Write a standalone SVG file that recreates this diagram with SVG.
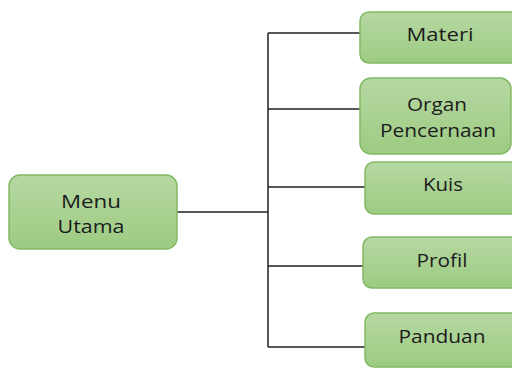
<svg xmlns="http://www.w3.org/2000/svg" width="512" height="368" viewBox="0 0 512 368">
<defs>
<linearGradient id="g" x1="0" y1="0" x2="0" y2="1">
<stop offset="0" stop-color="#b6d8a3"/>
<stop offset="1" stop-color="#9dcb82"/>
</linearGradient>
<style>
.box{fill:url(#g);stroke:#82b964;stroke-width:1.5}
.t{font-family:"Open Sans","DejaVu Sans",sans-serif;font-size:18px;fill:#1c1c1c;text-anchor:middle}
.c{fill:none;stroke:#222;stroke-width:1.5}
</style>
</defs>
<rect width="512" height="368" fill="#fff"/>
<g id="connectors">
<path class="c" d="M177 212H268M268 33V347M268 33H362M268 109H362M268 187H366M268 266H364M268 347H366"/>
</g>
<g id="menu-utama">
<rect class="box" x="9" y="175" width="168" height="74" rx="11"/>
<text class="t" x="91" y="208" textLength="60" lengthAdjust="spacingAndGlyphs">Menu</text>
<text class="t" x="91" y="233" textLength="67" lengthAdjust="spacingAndGlyphs">Utama</text>
</g>
<g id="materi">
<rect class="box" x="360" y="12" width="162" height="51" rx="9"/>
<text class="t" x="440" y="41" textLength="67" lengthAdjust="spacingAndGlyphs">Materi</text>
</g>
<g id="organ-pencernaan">
<rect class="box" x="360" y="78" width="151" height="76" rx="11"/>
<text class="t" x="437" y="111" textLength="60" lengthAdjust="spacingAndGlyphs">Organ</text>
<text class="t" x="438" y="137" textLength="116" lengthAdjust="spacingAndGlyphs">Pencernaan</text>
</g>
<g id="kuis">
<rect class="box" x="365" y="162" width="157" height="52" rx="9"/>
<text class="t" x="443" y="191" textLength="40" lengthAdjust="spacingAndGlyphs">Kuis</text>
</g>
<g id="profil">
<rect class="box" x="363" y="237" width="159" height="51" rx="9"/>
<text class="t" x="442" y="267" textLength="51" lengthAdjust="spacingAndGlyphs">Profil</text>
</g>
<g id="panduan">
<rect class="box" x="365" y="313" width="157" height="54" rx="9"/>
<text class="t" x="442" y="343" textLength="87" lengthAdjust="spacingAndGlyphs">Panduan</text>
</g>
</svg>
